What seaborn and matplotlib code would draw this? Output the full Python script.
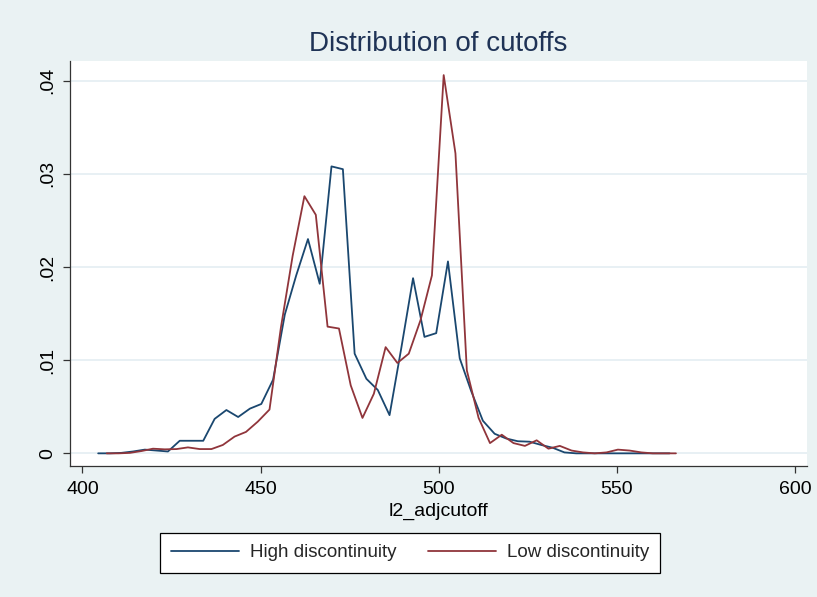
import matplotlib
matplotlib.use("Agg")
import matplotlib.pyplot as plt
import seaborn as sns
import pandas as pd

# Bin midpoints and densities for the two groups
high_x = [404.4, 407.7, 410.9, 414.2, 417.5, 420.8, 424.0, 427.3, 430.6, 433.9,
          437.1, 440.4, 443.7, 447.0, 450.2, 453.5, 456.8, 460.0, 463.3, 466.6,
          469.9, 473.1, 476.4, 479.7, 482.9, 486.2, 489.5, 492.8, 496.0, 499.3,
          502.6, 505.9, 509.1, 512.4, 515.7, 518.9, 522.2, 525.5, 528.8, 532.0,
          535.3, 538.6, 541.9, 545.1, 548.4, 551.7, 554.9, 558.2, 561.5, 564.8]
high_y = [0.0, 0.0, 0.00005, 0.0002, 0.0004, 0.0003, 0.0002, 0.00135, 0.00135, 0.00135,
          0.0037, 0.00465, 0.0039, 0.0048, 0.0053, 0.0079, 0.0149, 0.0191, 0.0230, 0.0182,
          0.0308, 0.0305, 0.0107, 0.0080, 0.0068, 0.0041, 0.0113, 0.0188, 0.0125, 0.0129,
          0.0206, 0.0102, 0.0067, 0.0035, 0.0021, 0.0016, 0.0013, 0.00125, 0.0009, 0.0006,
          0.0001, 0.0, 0.0, 0.0, 0.0, 0.0, 0.0, 0.0, 0.0, 0.0]

low_x = [406.8, 410.1, 413.3, 416.6, 419.8, 423.1, 426.4, 429.6, 432.9, 436.2,
         439.4, 442.7, 445.9, 449.2, 452.5, 455.7, 459.0, 462.3, 465.5, 468.8,
         472.0, 475.3, 478.6, 481.8, 485.1, 488.4, 491.6, 494.9, 498.1, 501.4,
         504.7, 507.9, 511.2, 514.4, 517.7, 521.0, 524.2, 527.5, 530.8, 534.0,
         537.3, 540.5, 543.8, 547.1, 550.3, 553.6, 556.9, 560.1, 563.4, 566.6]
low_y = [0.0, 0.0, 0.00005, 0.00025, 0.0005, 0.00043, 0.00046, 0.00064, 0.00046, 0.00046,
         0.0009, 0.0018, 0.0023, 0.0034, 0.0047, 0.0135, 0.0212, 0.0276, 0.0256, 0.0136,
         0.0134, 0.0073, 0.0038, 0.0064, 0.0114, 0.0097, 0.0107, 0.0143, 0.0191, 0.0406,
         0.0322, 0.0089, 0.0038, 0.0011, 0.0020, 0.0011, 0.0008, 0.0014, 0.0005, 0.0008,
         0.0003, 0.0001, 0.0, 0.0001, 0.0004, 0.0003, 0.0001, 0.0, 0.0, 0.0]

group_names = ["High discontinuity", "Low discontinuity"]
x_ticks = [400, 450, 500, 550, 600]
y_ticks = [0, 0.01, 0.02, 0.03, 0.04]
y_tick_labels = ["0", ".01", ".02", ".03", ".04"]

df = pd.concat([
    pd.DataFrame({"l2_adjcutoff": high_x, "density": high_y, "group": group_names[0]}),
    pd.DataFrame({"l2_adjcutoff": low_x, "density": low_y, "group": group_names[1]}),
], ignore_index=True)

outer_bg = "#EAF2F3"
sns.set_theme(style="white")
plt.rcParams["font.family"] = ["Liberation Sans", "DejaVu Sans"]

fig = plt.figure(figsize=(8.17, 5.97), dpi=100, facecolor=outer_bg)
ax = fig.add_axes([0.0857, 0.2194, 0.9021, 0.6784])
ax.set_facecolor("white")

palette = {group_names[0]: "#1A476F", group_names[1]: "#90353B"}
sns.lineplot(data=df, x="l2_adjcutoff", y="density", hue="group",
             palette=palette, linewidth=1.3, ax=ax, legend=False, sort=True)

ax.set_xlim(396.5, 603.4)
ax.set_ylim(-0.00136, 0.04211)
ax.set_xticks(x_ticks)
ax.set_xticklabels([str(t) for t in x_ticks])
ax.set_yticks(y_ticks)
ax.set_yticklabels(y_tick_labels, rotation=90, va="center")
ax.grid(axis="y", color="#E4EDF2", linewidth=1.2)
ax.grid(axis="x", visible=False)
ax.set_axisbelow(True)

for side in ("top", "right"):
    ax.spines[side].set_visible(False)
for side in ("left", "bottom"):
    ax.spines[side].set_color("#333333")
    ax.spines[side].set_linewidth(0.9)

ax.tick_params(axis="both", which="major", direction="out", length=5, width=0.9,
               color="#333333", labelsize=14, labelcolor="black",
               left=True, bottom=True)
ax.tick_params(axis="x", pad=6)
ax.tick_params(axis="y", pad=5)

ax.set_xlabel("l2_adjcutoff", fontsize=14, color="black", labelpad=3)
ax.set_ylabel("")

fig.text(0.5367, 0.927, "Distribution of cutoffs", ha="center", va="center",
         fontsize=20, color="#1F3356")

handles = [plt.Line2D([], [], color=palette[g], linewidth=1.3) for g in group_names]
leg = fig.legend(handles, group_names, loc="center", bbox_to_anchor=(0.502, 0.074),
                 ncol=2, fontsize=13.5, frameon=True, fancybox=False,
                 handlelength=3.6, handletextpad=0.6, columnspacing=1.7,
                 borderpad=0.6, borderaxespad=0)
leg.get_frame().set_edgecolor("black")
leg.get_frame().set_linewidth(0.9)
leg.get_frame().set_facecolor("white")
leg.get_frame().set_alpha(1)

fig.savefig("out.png", dpi=100, facecolor=outer_bg)
